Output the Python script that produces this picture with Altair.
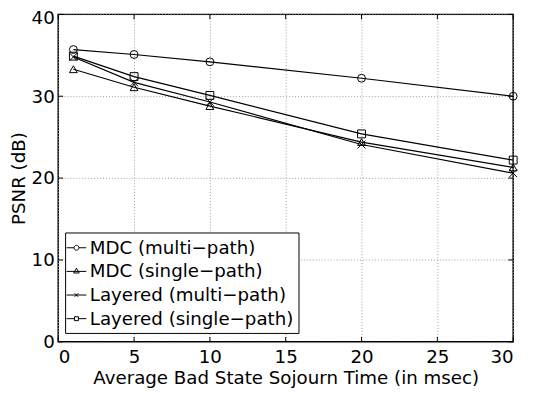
import altair as alt
import pandas as pd

# ---- data ----
x_vals = [1, 5, 10, 20, 30]
series_names = ["MDC (multi\u2212path)", "MDC (single\u2212path)",
                "Layered (multi\u2212path)", "Layered (single\u2212path)"]
mdc_multi = [35.7, 35.1, 34.2, 32.2, 30.0]
mdc_single = [33.3, 31.1, 28.8, 24.4, 21.3]
layered_multi = [34.8, 31.7, 29.3, 24.1, 20.6]
layered_single = [34.9, 32.4, 30.1, 25.4, 22.2]
x_ticks = [0, 5, 10, 15, 20, 25, 30]
y_ticks = [0, 10, 20, 30, 40]

rows = []
for name, vals in zip(series_names, [mdc_multi, mdc_single, layered_multi, layered_single]):
    for xv, yv in zip(x_vals, vals):
        rows.append({"x": xv, "y": yv, "series": name})
df = pd.DataFrame(rows)
xt = pd.DataFrame({"x": x_ticks})
yt = pd.DataFrame({"y": y_ticks})

W, H = 462, 332.5
FONT = "DejaVu Sans"
FS = 18.5

xscale = alt.Scale(domain=[0, 30], nice=False, zero=False)
yscale = alt.Scale(domain=[0, 40], nice=False, zero=False)

xaxis = alt.Axis(values=x_ticks, title="Average Bad State Sojourn Time (in msec)",
                 grid=True, gridDash=[1, 2], gridColor="#a0a0a0", gridWidth=1,
                 ticks=False, domain=False, labelPadding=6, titlePadding=3)
yaxis = alt.Axis(values=y_ticks, title="PSNR (dB)",
                 grid=True, gridDash=[1, 2], gridColor="#a0a0a0", gridWidth=1,
                 ticks=False, domain=False, labelPadding=4, titlePadding=3,
                 labelOffset={"condition": {"test": "datum.value === 40", "value": 3}, "value": 0})

marker_paths = [
    "circle",
    "triangle-up",
    "M-1,-1L1,1M-1,1L1,-1",
    "square",
]
legend_paths = [
    "M-1,0L-0.25,0M0.25,0L1,0M0.25,0A0.25,0.25 0 1,1 -0.25,0A0.25,0.25 0 1,1 0.25,0",
    "M-1,0L1,0M-0.28,0.16L0,-0.32L0.28,0.16Z",
    "M-1,0L1,0M-0.18,-0.18L0.18,0.18M-0.18,0.18L0.18,-0.18",
    "M-1,0L-0.2,0M0.2,0L1,0M-0.2,-0.2L0.2,-0.2L0.2,0.2L-0.2,0.2Z",
]

base = alt.Chart(df)

lines = base.mark_line(color="black", strokeWidth=1.2).encode(
    x=alt.X("x:Q", scale=xscale, axis=xaxis),
    y=alt.Y("y:Q", scale=yscale, axis=yaxis),
    detail="series:N",
)

points = base.mark_point(filled=False, color="black", strokeWidth=1, size=64, opacity=1).encode(
    x=alt.X("x:Q", scale=xscale, axis=xaxis),
    y=alt.Y("y:Q", scale=yscale, axis=yaxis),
    shape=alt.Shape("series:N", scale=alt.Scale(domain=series_names, range=marker_paths), legend=None),
)

legend_layer = base.transform_filter("false").mark_point(filled=False, color="black").encode(
    x=alt.X("x:Q", scale=xscale, axis=xaxis),
    y=alt.Y("y:Q", scale=yscale, axis=yaxis),
    shape=alt.Shape("series:N", scale=alt.Scale(domain=series_names, range=legend_paths),
                    legend=alt.Legend(title=None, orient="none", legendX=7, legendY=221.5,
                                      strokeColor="black", fillColor="white", padding=5,
                                      symbolSize=400, symbolStrokeColor="black",
                                      symbolStrokeWidth=1, symbolFillColor="transparent",
                                      symbolOpacity=1, symbolOffset=-4,
                                      labelFontSize=FS, labelFont=FONT,
                                      labelColor="black", labelOffset=3, rowPadding=4,
                                      labelLimit=400)),
)

tick_len = 5
xt_bottom = alt.Chart(xt).mark_rule(color="black", strokeWidth=1).encode(
    x=alt.X("x:Q", scale=xscale, axis=xaxis), y=alt.value(H), y2=alt.value(H - tick_len))
xt_top = alt.Chart(xt).mark_rule(color="black", strokeWidth=1).encode(
    x=alt.X("x:Q", scale=xscale, axis=xaxis), y=alt.value(0), y2=alt.value(tick_len))
yt_left = alt.Chart(yt).mark_rule(color="black", strokeWidth=1).encode(
    y=alt.Y("y:Q", scale=yscale, axis=yaxis), x=alt.value(0), x2=alt.value(tick_len))
yt_right = alt.Chart(yt).mark_rule(color="black", strokeWidth=1).encode(
    y=alt.Y("y:Q", scale=yscale, axis=yaxis), x=alt.value(W), x2=alt.value(W - tick_len))

chart = alt.layer(lines, xt_bottom, xt_top, yt_left, yt_right, points, legend_layer).resolve_scale(
    shape="independent"
).properties(
    width=W, height=H,
    autosize=alt.AutoSizeParams(type="none"),
    padding={"left": 51, "top": 3.5, "right": 12, "bottom": 48},
    background="white",
).configure_view(
    stroke="black", strokeWidth=1.5,
).configure_axis(
    labelFont=FONT, titleFont=FONT, labelFontSize=FS, titleFontSize=FS,
    labelColor="black", titleColor="black", titleFontWeight="normal",
)

chart.save("out.html", embed_options={"renderer": "svg", "actions": False})
